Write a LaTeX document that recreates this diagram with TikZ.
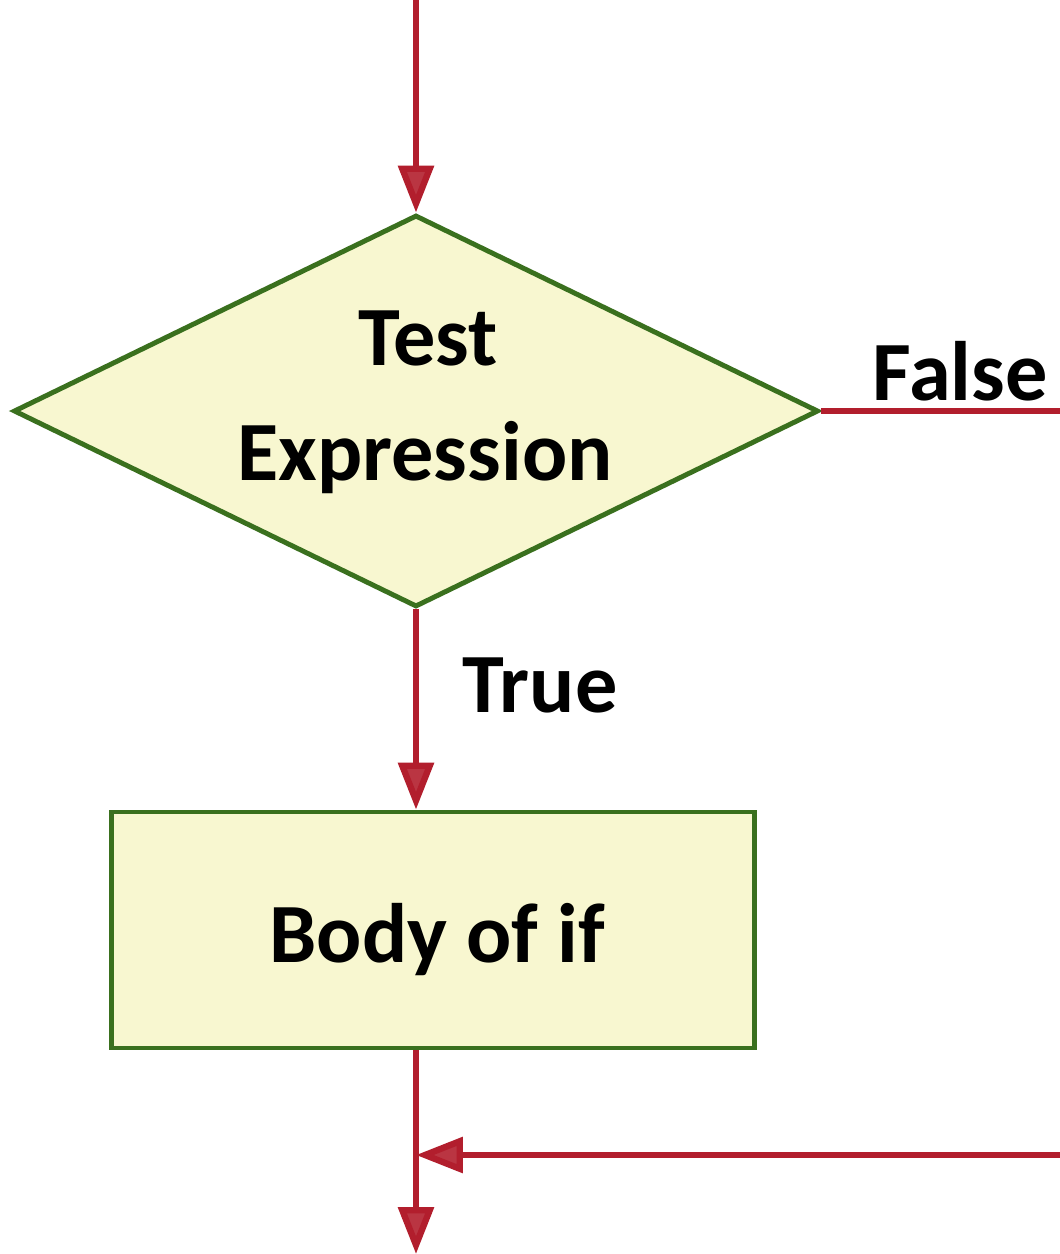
\documentclass[tikz,border=0pt]{standalone}
\usepackage{fontspec}
\setmainfont{Carlito}
\usetikzlibrary{shapes.geometric, arrows.meta, positioning, calc}

\definecolor{flowred}{RGB}{178,30,45}
\definecolor{boxgreen}{RGB}{58,112,30}
\definecolor{boxfill}{RGB}{248,247,208}

\begin{document}
\begin{tikzpicture}[
    x=0.02cm, y=-0.02cm,
    decision/.style={diamond, draw=boxgreen, line width=2.8pt, fill=boxfill, minimum width=16.1cm, minimum height=7.84cm, inner sep=0pt},
    process/.style={rectangle, draw=boxgreen, line width=2.8pt, fill=boxfill, minimum width=12.86cm, minimum height=4.72cm},
    label/.style={anchor=base, inner sep=0pt, font=\fontsize{48}{58}\selectfont\bfseries},
    arrow/.style={line width=3.6pt, draw=flowred, -{Triangle[length=0.94cm, width=0.7cm, fill=flowred!90!white]}},
    line/.style={line width=3.6pt, draw=flowred}
]
\useasboundingbox[fill=white] (0,0) rectangle (1059,1254);

% Test Expression
\node[decision] (test) at (416,411) {};
\node[label] (testtop) at (428,365) {Test};
\node[label] (testbot) at (425,480) {Expression};

% Body of if
\node[process] (body) at (433,930) {};
\node[label] (bodytext) at (437,962) {Body of if};

% Entry and exit points
\coordinate (in) at (416,0);
\coordinate (out) at (416,1254);
\coordinate (join) at (416,1155);
\coordinate (rt) at (1080,1155);

% Labels
\node[label] (false) at (960,400) {False};
\node[label] (true) at (540,712) {True};

% Arrows
\draw[arrow] (in) -- (test.north);
\draw[arrow] (test.south) -- (test.south |- body.north);
\draw[line] (test.south |- body.south) -- (join);
\draw[arrow] (join) -- (out);
\draw[arrow] (test.east) -| (rt) -- (join);

\end{tikzpicture}
\end{document}
